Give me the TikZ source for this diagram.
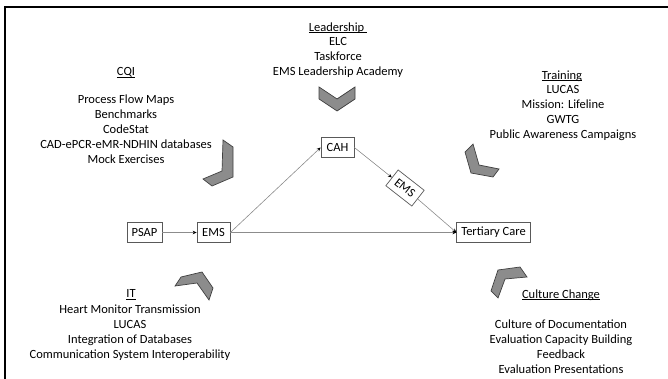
\documentclass[tikz,border=0pt]{standalone}
\usepackage{fontspec}
\setmainfont{Carlito}
\usetikzlibrary{arrows.meta}
\newcommand\ulx[1]{{\setbox0=\hbox{#1}\rlap{\rule[-1.7pt]{\wd0}{0.7pt}}\box0}}
\begin{document}
\begin{tikzpicture}[x=1pt,y=-1pt,
  txt/.style={font=\fontsize{12.5}{15}\selectfont, align=center, inner sep=0pt, anchor=north},
  box/.style={draw=black!65, line width=0.7pt, font=\fontsize{12.5}{15}\selectfont, inner xsep=4.5pt, inner ysep=0pt, minimum height=20pt, minimum width=33pt},
  conn/.style={draw=black!45, line width=0.6pt, -{Stealth[length=4pt,width=3.5pt,color=black]}},
  chev/.style={fill=black!45, draw=black!75, line width=0.7pt, line join=miter}
]
\useasboundingbox (0,0) rectangle (668,379);
\draw[line width=2.2pt] (5,379) -- (5,7) -- (668,7);

% process nodes
\node[box] (psap) at (144.5,232.5) {PSAP};
\node[box] (ems) at (213.5,232.5) {EMS};
\node[box] (cah) at (337.5,147.5) {CAH};
\node[box, rotate=-38] (ems2) at (405,188) {EMS};
\node[box] (tc) at (493.5,232.5) {Tertiary Care};

\draw[conn] (psap) -- (ems);
\draw[conn] (ems.east) -- (cah.west);
\draw[conn] (ems.east) -- (tc.west);
\draw[conn] (cah.east) -- (ems2);
\draw[conn] (ems2) -- (tc.west);

% chevrons
\draw[chev] (319,87) -- (319,99) -- (337,111) -- (355,99) -- (355,87) -- (337,99) -- cycle;
\draw[chev] (223,140) -- (233,147) -- (233,177) -- (212,186) -- (203,179) -- (222,171) -- cycle;
\draw[chev] (465,152) -- (473,144) -- (479,165) -- (499,169) -- (493,177) -- (471,173) -- cycle;
\draw[chev] (175,286) -- (181,277) -- (202,272) -- (213,288) -- (209,300) -- (197,283) -- cycle;
\draw[chev] (491,291) -- (498,270) -- (520,267) -- (527,277) -- (505,279) -- (498,298) -- cycle;

% texts
\node[txt] (cqit) at (126,67.5) {\ulx{CQI}};
\node[txt] (cqil) at (126,94.5) {Process Flow Maps\\Benchmarks\\CodeStat\\CAD-ePCR-eMR-NDHIN databases\\Mock Exercises};
\node[txt] (leadt) at (338,22.5) {\ulx{Leadership\ }};
\node[txt] (leadl) at (338,37.5) {ELC\\Taskforce\\EMS Leadership Academy};
\node[txt] (trt) at (562,70.5) {\ulx{Training}};
\node[txt] (trl) at (563,85.5) {LUCAS\\Mission: Lifeline\\GWTG\\Public Awareness Campaigns};
\node[txt] (itt) at (131,289.5) {\ulx{IT}};
\node[txt] (itl) at (130,304.5) {Heart Monitor Transmission\\LUCAS\\Integration of Databases\\Communication System Interoperability};
\node[txt] (cct) at (561,289.5) {\ulx{Culture Change}};
\node[txt] (ccl) at (561,319.5) {Culture of Documentation\\Evaluation Capacity Building\\Feedback\\Evaluation Presentations};
\end{tikzpicture}
\end{document}
